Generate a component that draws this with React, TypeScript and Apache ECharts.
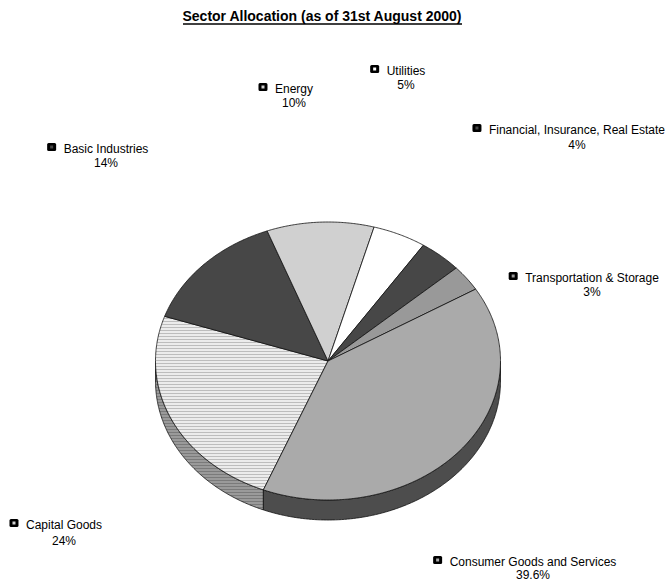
import React, { useEffect, useRef } from "react";
import * as echarts from "echarts";

// ---- data (clockwise from the Capital Goods / Consumer boundary) ----
const CATEGORIES = [
  "Capital Goods",
  "Basic Industries",
  "Energy",
  "Utilities",
  "Financial, Insurance, Real Estate",
  "Transportation & Storage",
  "Consumer Goods and Services",
];
const VALUES = [24, 14, 10, 5, 4, 3, 39.6];
const PERCENT_LABELS = ["24%", "14%", "10%", "5%", "4%", "3%", "39.6%"];

// ---- styling / layout ----
const TOP_COLORS = ["pattern", "#474747", "#d0d0d0", "#ffffff", "#474747", "#999999", "#aaaaaa"];
const SIDE_COLORS = ["patternSide", "#262626", "#8a8a8a", "#b0b0b0", "#262626", "#555555", "#4d4d4d"];
const MARKER_INNER = ["#d4d4d4", "#474747", "#d0d0d0", "#ffffff", "#474747", "#999999", "#aaaaaa"];
// label anchor: [center x of text block, y of name line, gap to percent line]
const LABEL_ANCHORS: [number, number, number][] = [
  [64, 525, 16],
  [106, 149, 14],
  [294, 89, 13.5],
  [406, 71, 13.5],
  [577, 130, 14.5],
  [592, 278, 14],
  [533, 562, 12.5],
];

const CX = 328;
const CY = 361;
const RX = 172.5;
const RY = 139;
const DEPTH = 20;
const START_DEG = 112;
const FONT = '"Liberation Sans", Arial, Helvetica, sans-serif';

function makeStripes(bg: string, line: string) {
  const c = document.createElement("canvas");
  c.width = 4;
  c.height = 3;
  const ctx = c.getContext("2d")!;
  ctx.fillStyle = bg;
  ctx.fillRect(0, 0, 4, 3);
  ctx.fillStyle = line;
  ctx.fillRect(0, 0, 4, 1);
  return { image: c, repeat: "repeat" } as any;
}

function measure(text: string) {
  const c = document.createElement("canvas");
  const ctx = c.getContext("2d")!;
  ctx.font = `12px ${FONT}`;
  return ctx.measureText(text).width;
}

function sliceAngles(i: number, vals: number[]) {
  const total = vals.reduce((a, b) => a + b, 0);
  let s = START_DEG;
  for (let j = 0; j < i; j++) s += (vals[j] / total) * 360;
  return [s, s + (vals[i] / total) * 360];
}

function pt(deg: number, dy = 0): number[] {
  const r = (deg * Math.PI) / 180;
  return [CX + RX * Math.cos(r), CY + RY * Math.sin(r) + dy];
}

function arc(a1: number, a2: number, dy = 0): number[][] {
  const pts: number[][] = [];
  const n = Math.max(2, Math.ceil(Math.abs(a2 - a1) / 0.5));
  for (let k = 0; k <= n; k++) pts.push(pt(a1 + ((a2 - a1) * k) / n, dy));
  return pts;
}

export default function App() {
  const ref = useRef<HTMLDivElement>(null);

  useEffect(() => {
    if (!ref.current) return;
    const chart = echarts.init(ref.current, null, { renderer: "svg" });

    const topPattern = makeStripes("#ececec", "#bdbdbd");
    const sidePattern = makeStripes("#9a9a9a", "#7a7a7a");
    const resolve = (c: string) => (c === "pattern" ? topPattern : c === "patternSide" ? sidePattern : c);

    const data = VALUES.map((v, i) => ({ name: CATEGORIES[i], value: v }));

    const sideRender = (params: any, api: any) => {
      const i = params.dataIndex;
      const [a1, a2] = sliceAngles(i, VALUES);
      const children: any[] = [];
      for (const k of [0, 360]) {
        const lo = Math.max(a1, k);
        const hi = Math.min(a2, k + 180);
        if (lo < hi) {
          const pts = arc(lo, hi, 0).concat(arc(hi, lo, DEPTH));
          children.push({
            type: "polygon",
            shape: { points: pts },
            style: { fill: resolve(SIDE_COLORS[i]), stroke: "#111", lineWidth: 0.8 },
          });
        }
      }
      return { type: "group", children };
    };

    const topRender = (params: any, api: any) => {
      const i = params.dataIndex;
      const [a1, a2] = sliceAngles(i, VALUES);
      const pts = [[CX, CY]].concat(arc(a1, a2, 0));
      const [lx, ly, gap] = LABEL_ANCHORS[i];
      const name = CATEGORIES[i];
      const w = measure(name);
      const mx = lx - w / 2 - 12;
      const my = ly - 2;
      return {
        type: "group",
        children: [
          {
            type: "polygon",
            shape: { points: pts },
            style: { fill: resolve(TOP_COLORS[i]), stroke: "#111", lineWidth: 0.8 },
          },
          {
            type: "rect",
            shape: { x: mx - 4.5, y: my - 4, width: 9, height: 8, r: 1.5 },
            style: { fill: "#000" },
          },
          {
            type: "rect",
            shape: { x: mx - 1.5, y: my - 1.5, width: 3, height: 3 },
            style: { fill: MARKER_INNER[i] },
          },
          {
            type: "text",
            x: lx,
            y: ly,
            style: {
              text: name,
              fontSize: 12,
              fontFamily: FONT,
              fill: "#000",
              align: "center",
              verticalAlign: "middle",
            },
          },
          {
            type: "text",
            x: lx,
            y: ly + gap,
            style: {
              text: PERCENT_LABELS[i],
              fontSize: 12,
              fontFamily: FONT,
              fill: "#000",
              align: "center",
              verticalAlign: "middle",
            },
          },
        ],
      };
    };

    chart.setOption({
      animation: false,
      backgroundColor: "#ffffff",
      graphic: [
        {
          type: "text",
          x: 322,
          y: 16,
          style: {
            text: "Sector Allocation (as of 31st August 2000)",
            fontSize: 14,
            fontWeight: "bold",
            fontFamily: FONT,
            fill: "#000",
            align: "center",
            verticalAlign: "middle",
          },
        },
        {
          type: "line",
          shape: { x1: 183, y1: 24, x2: 462, y2: 24 },
          style: { stroke: "#000", lineWidth: 1.6 },
        },
      ],
      series: [
        {
          type: "custom",
          coordinateSystem: "none",
          z: 1,
          data,
          renderItem: sideRender,
        },
        {
          type: "custom",
          coordinateSystem: "none",
          z: 2,
          data,
          renderItem: topRender,
        },
      ],
    });

    return () => chart.dispose();
  }, []);

  return (
    <div
      ref={ref}
      style={{ position: "fixed", left: 0, top: 0, width: 665, height: 582, background: "#fff" }}
    />
  );
}
